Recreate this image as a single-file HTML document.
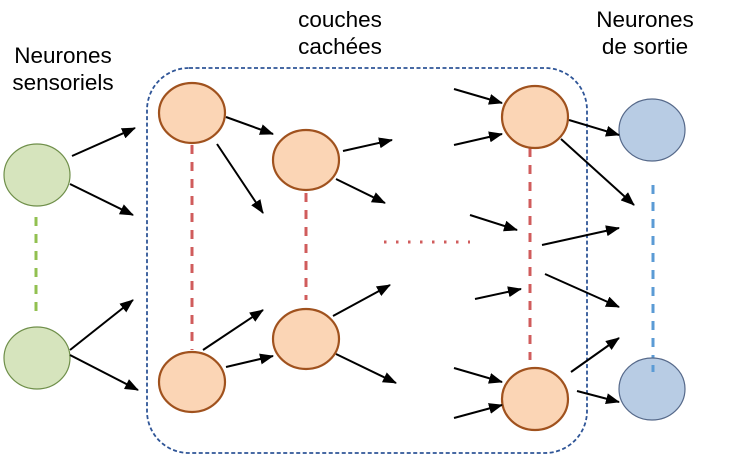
<!DOCTYPE html>
<html><head><meta charset="utf-8"><style>
body{margin:0;background:#fff;}
svg{display:block;}
text{font-family:"Liberation Sans",sans-serif;font-size:22.5px;fill:#000;}
</style></head><body>
<svg width="754" height="459" viewBox="0 0 754 459" xmlns="http://www.w3.org/2000/svg">
<defs><marker id="a" markerWidth="14" markerHeight="11" refX="13" refY="5.5" orient="auto" markerUnits="userSpaceOnUse" viewBox="0 0 14 11"><path d="M0,0 L14,5.5 L0,11 z" fill="#000"/></marker></defs>
<text x="63" y="63" text-anchor="middle">Neurones</text>
<text x="63" y="90" text-anchor="middle">sensoriels</text>
<text x="340" y="27" text-anchor="middle">couches</text>
<text x="340" y="54" text-anchor="middle">cachées</text>
<text x="645" y="27" text-anchor="middle">Neurones</text>
<text x="645" y="54" text-anchor="middle">de sortie</text>
<rect x="147" y="68" width="440" height="385" rx="42" fill="none" stroke="#2f5597" stroke-width="1.8" stroke-dasharray="4,2.5"/>
<g stroke-width="3" fill="none">
<line x1="36" y1="217" x2="36" y2="312" stroke="#92c050" stroke-dasharray="9,8"/>
<line x1="192" y1="145" x2="192" y2="350" stroke="#d05c5c" stroke-dasharray="9,8"/>
<line x1="306" y1="193" x2="306" y2="300" stroke="#d05c5c" stroke-dasharray="9,8"/>
<line x1="530" y1="148" x2="530" y2="360" stroke="#d05c5c" stroke-dasharray="9,8"/>
<line x1="653" y1="185" x2="653" y2="363" stroke="#5b9bd5" stroke-dasharray="9,8"/>
<line x1="384" y1="242" x2="470" y2="242" stroke="#d05c5c" stroke-dasharray="2.5,9.5"/>
</g>
<g fill="#d6e4bd" stroke="#6f8f4a" stroke-width="1.2">
<ellipse cx="37" cy="175" rx="33" ry="31"/><ellipse cx="37" cy="358" rx="33" ry="31"/>
</g>
<g fill="#fbd5b5" stroke="#a0521e" stroke-width="2.2">
<ellipse cx="192" cy="113" rx="33" ry="30"/><ellipse cx="192" cy="382" rx="33" ry="30"/>
<ellipse cx="306" cy="160" rx="33" ry="30"/><ellipse cx="306" cy="339" rx="33" ry="30"/>
<ellipse cx="535" cy="117" rx="33" ry="31"/><ellipse cx="535" cy="399" rx="33" ry="31"/>
</g>
<g fill="#b8cce4" stroke="#56698a" stroke-width="1.2">
<ellipse cx="652" cy="130" rx="33" ry="31"/><ellipse cx="652" cy="389" rx="33" ry="31"/>
</g>
<line x1="653" y1="365" x2="653" y2="372" stroke="#5b9bd5" stroke-width="3"/>
<g stroke="#000" stroke-width="2" marker-end="url(#a)">
<line x1="72" y1="156" x2="135" y2="128"/><line x1="70" y1="184" x2="133" y2="215"/>
<line x1="70" y1="350" x2="133" y2="300"/><line x1="70" y1="355" x2="138" y2="390"/>
<line x1="226" y1="117" x2="273" y2="134"/><line x1="217" y1="144" x2="263" y2="213"/>
<line x1="203" y1="350" x2="263" y2="310"/><line x1="226" y1="367" x2="273" y2="356"/>
<line x1="343" y1="151" x2="392" y2="140"/><line x1="336" y1="179" x2="385" y2="203"/>
<line x1="333" y1="316" x2="390" y2="285"/><line x1="336" y1="354" x2="396" y2="383"/>
<line x1="454" y1="89" x2="502" y2="103"/><line x1="454" y1="145" x2="502" y2="134"/>
<line x1="470" y1="215" x2="517" y2="230"/><line x1="475" y1="299" x2="521" y2="289"/>
<line x1="454" y1="368" x2="502" y2="382"/><line x1="454" y1="418" x2="502" y2="405"/>
<line x1="569" y1="120" x2="619" y2="135"/><line x1="561" y1="139" x2="634" y2="205"/>
<line x1="542" y1="245" x2="619" y2="228"/><line x1="545" y1="274" x2="619" y2="307"/>
<line x1="571" y1="372" x2="619" y2="338"/><line x1="577" y1="391" x2="619" y2="402"/>
</g>
</svg>
</body></html>
